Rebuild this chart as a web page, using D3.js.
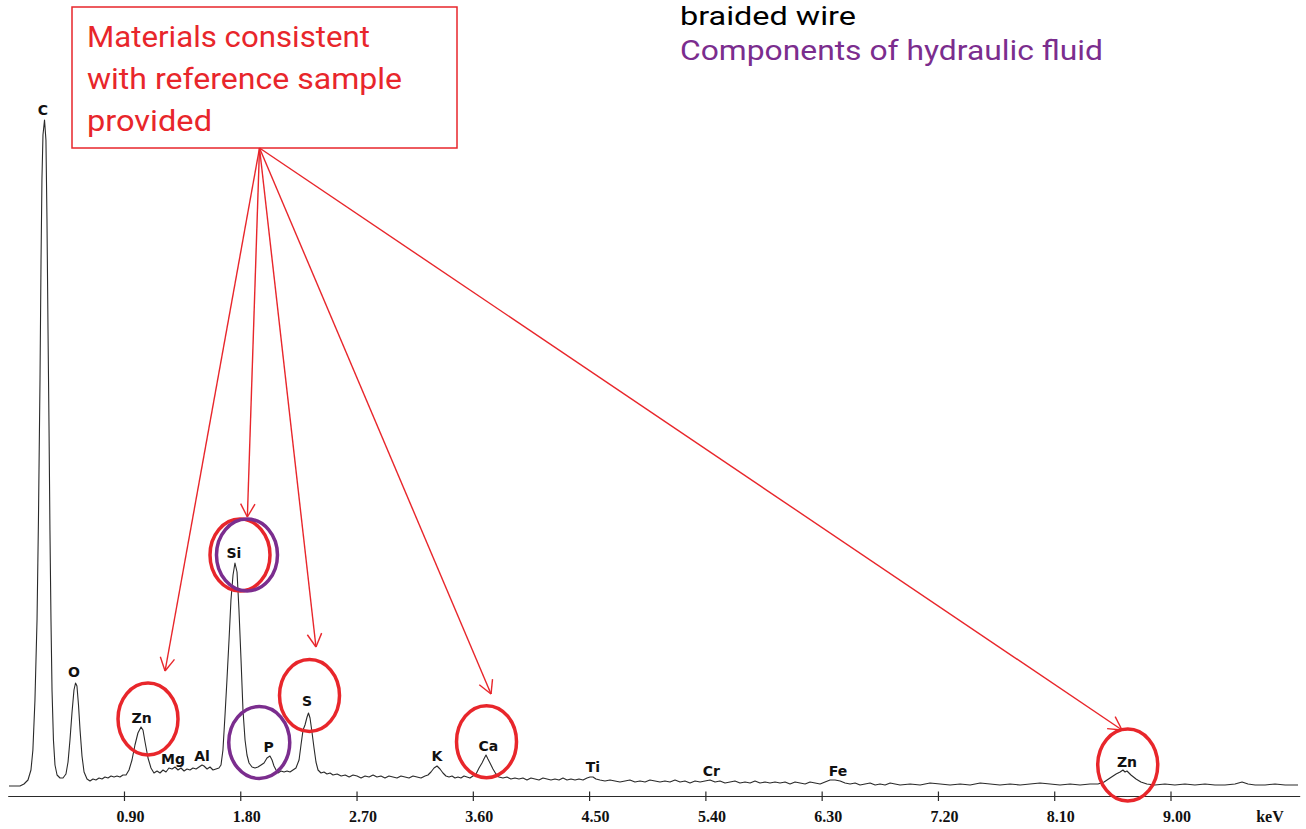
<!DOCTYPE html>
<html><head><meta charset="utf-8">
<script src="https://cdn.jsdelivr.net/npm/d3@7"></script>
<style>html,body{margin:0;padding:0;background:#fff;overflow:hidden}</style>
</head><body><svg id="c" width="1306" height="829"></svg>
<script>
// ---- Data ----
const spectrumKeV = [0.010,0.049,0.095,0.126,0.157,0.180,0.195,0.211,0.227,0.238,0.250,0.258,0.265,0.273,0.285,0.296,0.304,0.312,0.320,0.327,0.335,0.343,0.354,0.366,0.382,0.405,0.428,0.451,0.467,0.482,0.498,0.513,0.525,0.536,0.548,0.560,0.575,0.591,0.614,0.637,0.660,0.683,0.707,0.730,0.753,0.776,0.800,0.823,0.846,0.869,0.892,0.916,0.939,0.962,0.985,1.008,1.032,1.047,1.063,1.086,1.109,1.132,1.156,1.179,1.202,1.225,1.248,1.272,1.295,1.318,1.341,1.365,1.388,1.411,1.434,1.458,1.481,1.504,1.519,1.543,1.566,1.589,1.612,1.635,1.651,1.666,1.682,1.697,1.713,1.728,1.744,1.759,1.775,1.790,1.806,1.821,1.837,1.852,1.868,1.891,1.914,1.937,1.961,1.984,2.007,2.030,2.046,2.061,2.077,2.092,2.115,2.139,2.162,2.185,2.208,2.231,2.255,2.270,2.286,2.301,2.317,2.328,2.340,2.355,2.371,2.386,2.402,2.425,2.448,2.471,2.495,2.518,2.550,2.581,2.612,2.643,2.673,2.704,2.735,2.766,2.797,2.828,2.858,2.889,2.920,2.951,2.982,3.013,3.044,3.075,3.106,3.137,3.168,3.199,3.230,3.253,3.276,3.300,3.323,3.346,3.369,3.392,3.416,3.439,3.462,3.485,3.508,3.532,3.555,3.578,3.601,3.625,3.648,3.671,3.686,3.702,3.717,3.733,3.756,3.779,3.802,3.833,3.864,3.895,3.926,3.957,3.988,4.019,4.050,4.081,4.112,4.143,4.174,4.205,4.236,4.267,4.298,4.329,4.360,4.391,4.422,4.453,4.484,4.507,4.530,4.553,4.584,4.623,4.662,4.700,4.739,4.778,4.816,4.855,4.894,4.933,4.971,5.010,5.049,5.087,5.126,5.165,5.204,5.242,5.281,5.320,5.359,5.397,5.436,5.475,5.513,5.552,5.591,5.629,5.668,5.707,5.746,5.784,5.823,5.862,5.900,5.939,5.978,6.017,6.055,6.094,6.133,6.172,6.210,6.249,6.288,6.326,6.365,6.404,6.443,6.481,6.520,6.559,6.597,6.636,6.675,6.714,6.752,6.791,6.830,6.868,6.907,6.985,7.062,7.139,7.217,7.294,7.372,7.449,7.527,7.604,7.680,7.758,7.836,7.913,7.990,8.068,8.145,8.223,8.300,8.377,8.439,8.486,8.532,8.579,8.610,8.632,8.648,8.663,8.694,8.733,8.771,8.817,8.879,8.957,9.034,9.112,9.189,9.267,9.344,9.422,9.499,9.554,9.600,9.655,9.732,9.809,9.887,9.987];
const spectrumCounts = [10,10,10,12,16,26,46,96,176,276,416,536,616,661,676,656,576,466,366,266,176,106,56,31,21,18,18,22,34,56,84,106,113,110,91,66,40,24,17,15,17,16,18,17,19,18,20,19,20,19,21,21,26,36,51,63,69,66,54,38,28,23,25,23,26,24,28,27,29,26,28,25,27,26,28,27,29,31,30,27,29,26,27,28,31,46,81,116,156,196,221,233,224,186,136,86,56,41,33,29,28,29,31,33,38,40,36,30,26,23,25,24,25,24,26,28,36,51,66,71,79,83,78,64,48,34,26,23,24,22,23,21,22,20,21,19,21,20,18,20,19,21,19,20,18,20,19,18,20,19,18,20,19,18,20,21,24,28,30,27,23,20,19,20,18,19,18,20,19,18,20,22,28,33,37,41,37,33,27,22,19,18,19,17,18,17,18,16,18,17,16,18,17,16,17,16,18,16,17,16,17,16,18,19,19,17,16,15,16,15,14,15,16,14,15,14,16,15,14,15,14,16,14,15,13,15,14,15,16,14,15,13,14,15,13,14,13,15,13,14,13,14,13,14,12,14,13,12,14,13,12,14,16,16,15,13,12,13,11,12,13,11,12,11,13,12,11,12,11,13,12,11,12,11,13,12,11,12,11,12,13,12,11,12,11,12,12,14,18,22,24,26,24,25,21,17,14,12,11,12,11,12,11,12,11,11,12,14,12,11,11,12,11,11];
const tickKeV = [0.9,1.8,2.7,3.6,4.5,5.4,6.3,7.2,8.1,9.0];
const axisUnit = "keV";
const peakNames = ["C","O","Zn","Mg","Al","Si","P","S","K","Ca","Ti","Cr","Fe","Zn"];
const peakLabelKeV = [0.273,0.513,1.036,1.279,1.504,1.751,2.019,2.317,3.323,3.721,4.530,5.447,6.427,8.663];
const peakLabelCounts = [686,124,78,37,40,243,49,95,40,50,29,25,25,34];
// highlighted peaks: group "ref" = consistent with reference sample, "fluid" = hydraulic fluid
const ringKeV = [1.086,1.798,1.852,1.947,2.336,3.706,8.669];
const ringCounts = [77,241,241,53.5,100.5,54.3,31];
const ringGroup = ["ref","ref","fluid","fluid","ref","ref","ref"];
const arrowTipKeV = [1.218,1.855,2.386,3.741,8.625];
const arrowTipCounts = [125,279,149,102,66];
const boxLines = ["Materials consistent","with reference sample","provided"];
const legendLines = ["braided wire","Components of hydraulic fluid"];

// ---- Layout / style ----
const W = 1306, H = 829;
const RED = "#e8262b", PURPLE = "#7b2d8e", INK = "#2a2a2a";
const TEXT_FONT = "Roboto,'Open Sans',sans-serif";
const svg = d3.select("#c");
svg.append("rect").attr("width",W).attr("height",H).attr("fill","#fff");

const x = d3.scaleLinear().domain([0,10]).range([7.7,1299.7]);
const y = d3.scaleLinear().domain([0,700]).range([796,96]);

// axis
const tickFont = "'Liberation Serif','DejaVu Serif',serif";
const axis = d3.axisBottom(x).tickValues(tickKeV).tickFormat(d3.format(".2f")).tickSizeOuter(0).tickSizeInner(5);
const gAx = svg.append("g").attr("transform",`translate(0,${y(0)})`).call(axis);
gAx.select(".domain").attr("stroke",INK).attr("stroke-width",1.2);
gAx.selectAll(".tick line").attr("stroke",INK).attr("stroke-width",1.2).attr("y1",-4.5).attr("y2",5);
gAx.selectAll(".tick text").attr("fill","#111").attr("y",20).attr("dy",0).attr("dx",6)
  .attr("dominant-baseline","central")
  .style("font-family",tickFont).style("font-weight","bold").style("font-size","16px");
svg.append("text").attr("x",x(9.77)).attr("y",y(0)+20).attr("text-anchor","middle").attr("dominant-baseline","central")
  .attr("fill","#111").style("font-family",tickFont).style("font-weight","bold").style("font-size","16px")
  .text(axisUnit);

// spectrum
const pts = spectrumKeV.map((k,i)=>[k,spectrumCounts[i]]);
svg.append("path").datum(pts)
  .attr("d", d3.line().x(d=>x(d[0])).y(d=>y(d[1])))
  .attr("fill","none").attr("stroke",INK).attr("stroke-width",1.1).attr("stroke-linejoin","round");

// peak labels
svg.append("g").selectAll("text").data(peakNames).join("text")
  .attr("x",(d,i)=>x(peakLabelKeV[i])).attr("y",(d,i)=>y(peakLabelCounts[i]))
  .attr("text-anchor","middle").attr("dominant-baseline","central")
  .attr("fill","#111").style("font-family","'DejaVu Sans',sans-serif").style("font-weight","bold").style("font-size","14px")
  .text(d=>d);

// rings
const ringR = {ref:[30,36], fluid:[30.5,36]};
svg.append("g").selectAll("ellipse").data(ringGroup).join("ellipse")
  .attr("cx",(d,i)=>x(ringKeV[i])).attr("cy",(d,i)=>y(ringCounts[i]))
  .attr("rx",d=>ringR[d][0]).attr("ry",d=>ringR[d][1])
  .attr("fill","none").attr("stroke",d=>d==="ref"?RED:PURPLE).attr("stroke-width",3.5);

// callout box
const box = {x:72, y:7, w:385, h:141};
svg.append("rect").attr("x",box.x).attr("y",box.y).attr("width",box.w).attr("height",box.h)
  .attr("fill","none").attr("stroke",RED).attr("stroke-width",1.5);
const boxLen = [283,315,125];
svg.append("g").selectAll("text").data(boxLines).join("text")
  .attr("x",87).attr("y",(d,i)=>47+i*42)
  .attr("textLength",(d,i)=>boxLen[i]).attr("lengthAdjust","spacingAndGlyphs")
  .attr("fill",RED).style("font-family",TEXT_FONT).style("font-size","29px")
  .text(d=>d);

// arrows
const ox = 259.5, oy = 148;
const gA = svg.append("g").attr("stroke",RED).attr("stroke-width",1.4).attr("fill","none");
arrowTipKeV.forEach((k,i)=>{
  const tx = x(k), ty = y(arrowTipCounts[i]);
  gA.append("line").attr("x1",ox).attr("y1",oy).attr("x2",tx).attr("y2",ty);
  const ang = Math.atan2(ty-oy, tx-ox);
  [-1,1].forEach(s=>{
    const a = ang + Math.PI + s*0.5;
    gA.append("line").attr("x1",tx).attr("y1",ty).attr("x2",tx+15*Math.cos(a)).attr("y2",ty+15*Math.sin(a));
  });
});

// legend text at top
const legColor = ["#000", PURPLE];
const legLen = [176,423];
const legSize = [26,28];
svg.append("g").selectAll("text").data(legendLines).join("text")
  .attr("x",680).attr("y",(d,i)=>i===0?25:60)
  .attr("textLength",(d,i)=>legLen[i]).attr("lengthAdjust","spacingAndGlyphs")
  .attr("fill",(d,i)=>legColor[i]).style("font-family",TEXT_FONT)
  .style("font-size",(d,i)=>legSize[i]+"px")
  .text(d=>d);
</script></body></html>
